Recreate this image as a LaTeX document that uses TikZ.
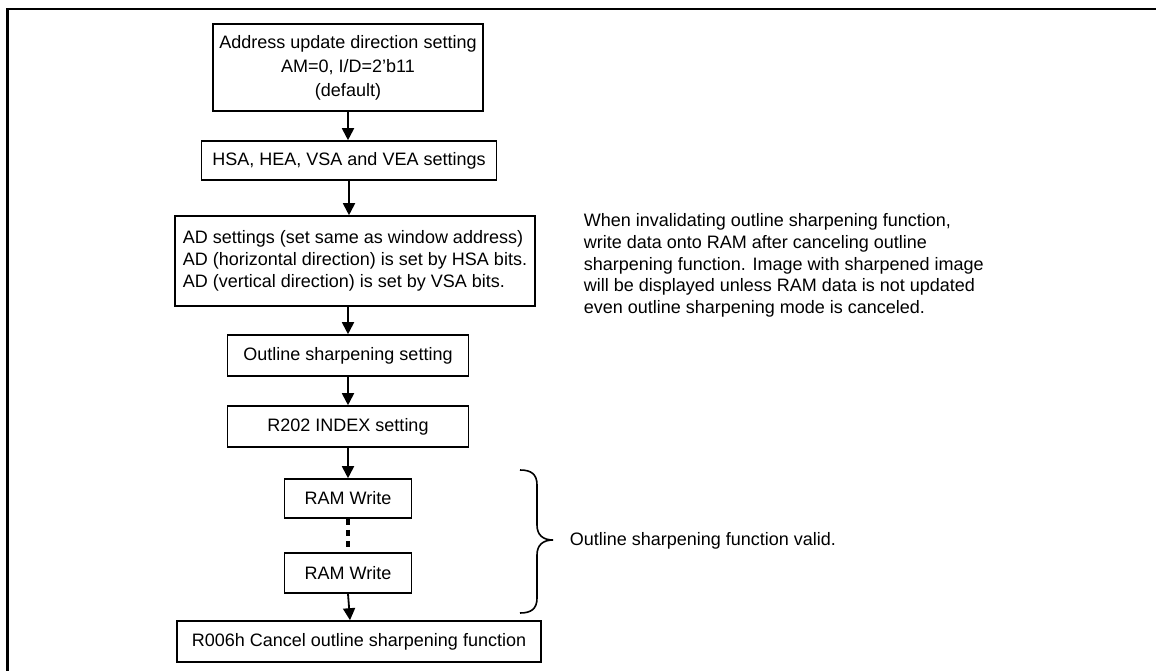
\documentclass[tikz,border=0pt]{standalone}
\usepackage{fontspec}
\setmainfont{Liberation Sans}
\usetikzlibrary{arrows.meta, positioning}
\tikzset{
  every picture/.style={line width=1.6pt},
  box/.style={draw, fill=white, align=center, inner sep=4pt, minimum height=#1},
  box/.default=40pt,
  arrow/.style={-{Triangle[length=12pt, width=12pt]}, line width=1.8pt},
  dots/.style={line width=4pt, dash pattern=on 6pt off 5pt},
  note/.style={align=left, inner sep=0pt},
  frame/.style={line width=2.6pt},
}
\begin{document}
\begin{tikzpicture}[x=1pt, y=-1pt, font=\fontsize{18}{21.7}\selectfont]
  \useasboundingbox (0,0) rectangle (1156,671);
  \draw[frame] (7.5,690) |- (1170,9);

  % main flow
  \node[box=87pt, minimum width=270pt, font=\fontsize{18}{24}\selectfont] (adr) at (348,67.5)
    {Address update direction setting\\AM=0, I/D=2{\char"27}b11\\(default)};
  \node[box=39pt, minimum width=295pt] (win) at (349,160.5) {HSA, HEA, VSA and VEA settings};
  \node[box=90pt, minimum width=360pt, align=left] (ad) at (355,261)
    {AD settings (set same as window address)\\AD (horizontal direction) is set by HSA bits.\\AD (vertical direction) is set by VSA bits.};
  \node[box=41pt, minimum width=241pt] (osm) at (348,355.5) {Outline sharpening setting};
  \node[box=41pt, minimum width=241pt] (idx) at (348,426.5) {R202 INDEX setting};
  \node[box=39pt, minimum width=127pt] (ram1) at (348,498.5) {RAM Write};
  \node[box=40pt, minimum width=127pt] (ram2) at (348,573) {RAM Write};
  \node[box=41pt, minimum width=364pt] (cnl) at (359,641.5) {R006h Cancel outline sharpening function};

  \draw[arrow] (adr.south) -- (adr.south |- win.north);
  \draw[arrow] (win.south) -- (win.south |- ad.north);
  \draw[arrow] (osm.north |- ad.south) -- (osm.north);
  \draw[arrow] (osm.south) -- (idx.north);
  \draw[arrow] (idx.south) -- (ram1.north);
  \draw[dots] (ram1.south) -- (ram2.north);
  \draw[arrow] (ram2.south) -- ([xshift=2pt]ram2.south |- cnl.north);

  % remarks
  \node[note, anchor=north west] (rmk) at (583,213)
    {When invalidating outline sharpening function,\\write data onto RAM after canceling outline\\sharpening function. Image with sharpened image\\will be displayed unless RAM data is not updated\\even outline sharpening mode is canceled.};
  \coordinate (bt) at (520,470);
  \coordinate (bb) at (520,613);
  \draw[line width=1.6pt] (bt) .. controls ++(11,0) and ++(0,-11) .. ++(17,15)
    -- ++(0,40) .. controls ++(0,10) and ++(-10,0) .. ++(16,15)
    .. controls ++(-10,0) and ++(0,-10) .. ++(-16,15)
    -- ++(0,43) .. controls ++(0,11) and ++(11,0) .. (bb);
  \node[note, anchor=west] (valid) at (569,541) {Outline sharpening function valid.};
\end{tikzpicture}
\end{document}
